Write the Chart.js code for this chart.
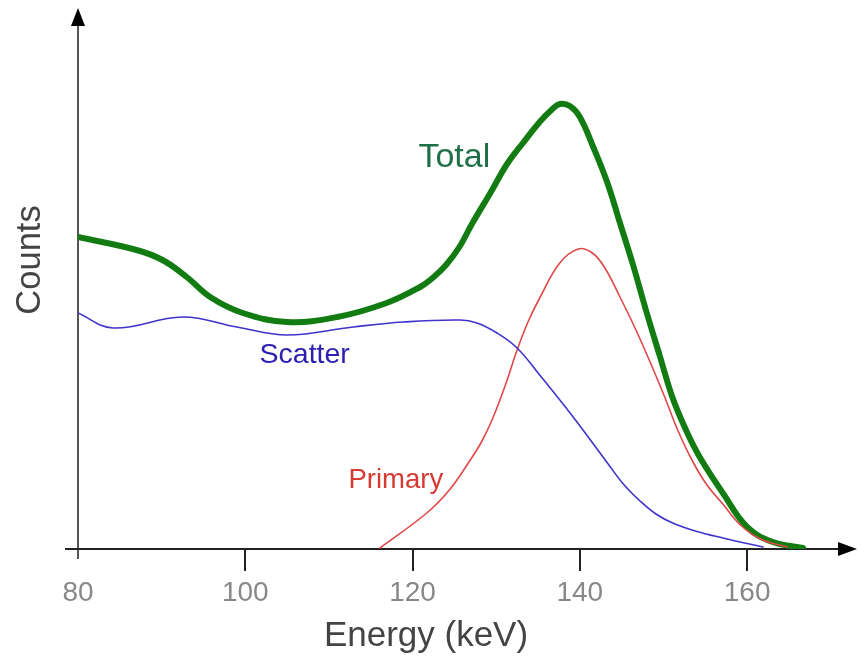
<!DOCTYPE html>
<html>
<head>
<meta charset="utf-8">
<script src="https://cdn.jsdelivr.net/npm/chart.js@4/dist/chart.umd.min.js"></script>
<style>
  html, body { margin: 0; padding: 0; background: #fff; }
  canvas { display: block; }
</style>
</head>
<body>
<canvas id="c" width="865" height="659"></canvas>
<script>
// ---- Data (energy in keV, counts in arbitrary units) ----
const totalEnergy  = [80, 87.0, 90.1, 93.0, 95.8, 99.7, 105.0, 111.0, 116.9, 120.9, 122.4, 124.0, 125.6, 127.1, 129.3, 131.3, 133.2, 135.2, 136.6, 137.6, 138.8, 140.0, 141.6, 143.3, 144.8, 146.4, 147.9, 149.6, 151.1, 152.8, 154.4, 157.1, 160.0, 163.1, 166.7];
const totalCounts  = [312, 299, 289, 272, 252, 236, 227, 232, 246, 262, 271, 284, 302, 325, 356, 385, 406, 427, 439, 445, 443, 432, 402, 366, 326, 283, 239, 192, 151, 117, 91, 56, 22, 7, 1];

const scatterEnergy = [80, 84.2, 92.5, 99.0, 105.0, 112.9, 118.9, 125.7, 127.7, 130.1, 132.5, 135.2, 139.2, 143.3, 145.2, 147.2, 149.1, 151.1, 153.8, 157.1, 161.9];
const scatterCounts = [236, 221, 232, 222, 214, 222, 227, 229, 226, 216, 201, 174, 132, 86, 65, 48, 35, 26, 18, 11, 2];

const primaryEnergy = [116.1, 121.7, 124.4, 126.9, 128.3, 129.6, 131.1, 132.5, 133.8, 135.2, 137.6, 139.8, 141.5, 143.0, 144.8, 146.6, 148.4, 150.1, 151.7, 153.4, 155.2, 157.1, 159.2, 161.6, 164.8];
const primaryCounts = [1, 36, 59, 89, 108, 131, 164, 199, 227, 251, 286, 300, 296, 281, 252, 221, 187, 153, 119, 89, 64, 45, 24, 10, 2];

const xTickValues = [80, 100, 120, 140, 160];
const xTitle = "Energy (keV)";
const yTitle = "Counts";
const seriesLabels = ["Total", "Scatter", "Primary"];

// ---- Styling ----
const COL_TOTAL = "#127c12";
const COL_SCATTER = "#4033cc";
const COL_PRIMARY = "#e04848";
const FONT = "'Liberation Sans', Arial, sans-serif";

const pts = (xs, ys) => xs.map((x, i) => ({ x: x, y: ys[i] }));

const axesPlugin = {
  id: 'axesPlugin',
  beforeDatasetsDraw(chart) {
    const ctx = chart.ctx;
    const xs = chart.scales.x, ys = chart.scales.y;
    const x0 = xs.getPixelForValue(80);
    const y0 = ys.getPixelForValue(0);
    const right = chart.chartArea.right;
    const top = chart.chartArea.top;
    ctx.save();
    // y axis
    ctx.strokeStyle = "#555";
    ctx.lineWidth = 2;
    ctx.beginPath();
    ctx.moveTo(x0, y0 + 10);
    ctx.lineTo(x0, top + 14);
    ctx.stroke();
    ctx.fillStyle = "#000";
    ctx.beginPath();
    ctx.moveTo(x0, top - 2);
    ctx.lineTo(x0 - 7, top + 16);
    ctx.lineTo(x0 + 7, top + 16);
    ctx.closePath();
    ctx.fill();
    // x axis
    ctx.strokeStyle = "#222";
    ctx.beginPath();
    ctx.moveTo(x0 - 13, y0);
    ctx.lineTo(right - 14, y0);
    ctx.stroke();
    ctx.beginPath();
    ctx.moveTo(right + 2, y0);
    ctx.lineTo(right - 17, y0 - 7);
    ctx.lineTo(right - 17, y0 + 7);
    ctx.closePath();
    ctx.fill();
    // ticks
    ctx.strokeStyle = "#222";
    xTickValues.forEach(v => {
      if (v === 80) return;
      const px = Math.round(xs.getPixelForValue(v));
      ctx.beginPath();
      ctx.moveTo(px, y0);
      ctx.lineTo(px, y0 + 22);
      ctx.stroke();
    });
    // tick labels
    ctx.fillStyle = "#888";
    ctx.font = "28px " + FONT;
    ctx.textAlign = "center";
    ctx.textBaseline = "middle";
    xTickValues.forEach(v => {
      ctx.fillText(String(v), xs.getPixelForValue(v), y0 + 44);
    });
    // axis titles
    ctx.fillStyle = "#444";
    ctx.font = "35px " + FONT;
    ctx.fillText(xTitle, 426, y0 + 87);
    ctx.font = "34.5px " + FONT;
    ctx.save();
    ctx.translate(30, 260);
    ctx.rotate(-Math.PI / 2);
    ctx.fillText(yTitle, 0, 0);
    ctx.restore();
    ctx.restore();
  },
  afterDatasetsDraw(chart) {
    const ctx = chart.ctx;
    const xs = chart.scales.x, ys = chart.scales.y;
    ctx.save();
    ctx.textAlign = "center";
    ctx.textBaseline = "middle";
    ctx.fillStyle = "#1f7047";
    ctx.font = "34px " + FONT;
    ctx.fillText(seriesLabels[0], xs.getPixelForValue(125.0), ys.getPixelForValue(391));
    ctx.fillStyle = "#2e20b0";
    ctx.font = "28.5px " + FONT;
    ctx.fillText(seriesLabels[1], xs.getPixelForValue(107.1), ys.getPixelForValue(194));
    ctx.fillStyle = "#d63a32";
    ctx.font = "27.5px " + FONT;
    ctx.fillText(seriesLabels[2], xs.getPixelForValue(118.0), ys.getPixelForValue(69));
    ctx.restore();
  }
};

const common = { pointRadius: 0, tension: 0.4, fill: false, borderCapStyle: 'round', borderJoinStyle: 'round' };

new Chart(document.getElementById('c'), {
  type: 'line',
  data: {
    datasets: [
      Object.assign({ label: seriesLabels[1], data: pts(scatterEnergy, scatterCounts), borderColor: COL_SCATTER, borderWidth: 1.6 }, common),
      Object.assign({ label: seriesLabels[2], data: pts(primaryEnergy, primaryCounts), borderColor: COL_PRIMARY, borderWidth: 1.6 }, common),
      Object.assign({ label: seriesLabels[0], data: pts(totalEnergy, totalCounts), borderColor: COL_TOTAL, borderWidth: 6 }, common)
    ]
  },
  options: {
    responsive: false,
    animation: false,
    devicePixelRatio: 1,
    layout: { padding: { left: 78, right: 10, top: 10, bottom: 110 } },
    plugins: { legend: { display: false }, tooltip: { enabled: false } },
    scales: {
      x: { type: 'linear', min: 80, max: 172.9, display: false },
      y: { type: 'linear', min: 0, max: 539, display: false }
    }
  },
  plugins: [axesPlugin]
});
</script>
</body>
</html>
